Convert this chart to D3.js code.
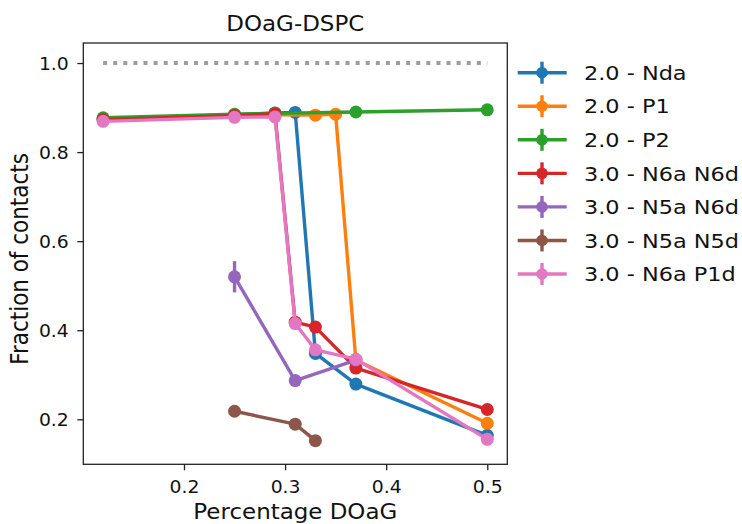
<!DOCTYPE html>
<html>
<head>
<meta charset="utf-8">
<script src="https://cdn.jsdelivr.net/npm/d3@7"></script>
<style>
  body { margin: 0; background: #fff; }
  svg { display: block; font-family: 'DejaVu Sans', sans-serif; }
</style>
</head>
<body>
<div id="visualization"></div>
<script>
// DATA
const seriesNames = ['2.0 - Nda', '2.0 - P1', '2.0 - P2', '3.0 - N6a N6d', '3.0 - N5a N6d', '3.0 - N5a N5d', '3.0 - N6a P1d']
const seriesColors = ['#1f77b4', '#ff7f0e', '#2ca02c', '#d62728', '#9467bd', '#8c564b', '#e377c2']

const ndaX = [0.12, 0.25, 0.29, 0.31, 0.33, 0.37, 0.5]
const ndaY = [0.874, 0.884, 0.888, 0.889, 0.348, 0.279, 0.164]
const ndaErr = [0.003, 0.003, 0.003, 0.003, 0.006, 0.005, 0.004]

const p1X = [0.12, 0.25, 0.29, 0.33, 0.35, 0.37, 0.5]
const p1Y = [0.874, 0.883, 0.884, 0.883, 0.885, 0.333, 0.191]
const p1Err = [0.003, 0.003, 0.003, 0.003, 0.003, 0.006, 0.004]

const p2X = [0.12, 0.25, 0.29, 0.37, 0.5]
const p2Y = [0.877, 0.885, 0.887, 0.890, 0.895]
const p2Err = [0.003, 0.003, 0.003, 0.003, 0.003]

const n6aN6dX = [0.12, 0.25, 0.29, 0.31, 0.33, 0.37, 0.5]
const n6aN6dY = [0.873, 0.882, 0.886, 0.418, 0.407, 0.315, 0.222]
const n6aN6dErr = [0.003, 0.003, 0.003, 0.008, 0.006, 0.005, 0.004]

const n5aN6dX = [0.25, 0.31, 0.37]
const n5aN6dY = [0.520, 0.287, 0.333]
const n5aN6dErr = [0.035, 0.006, 0.006]

const n5aN5dX = [0.25, 0.31, 0.33]
const n5aN5dY = [0.218, 0.189, 0.152]
const n5aN5dErr = [0.004, 0.004, 0.004]

const n6aP1dX = [0.12, 0.25, 0.29, 0.31, 0.33, 0.37, 0.5]
const n6aP1dY = [0.869, 0.878, 0.879, 0.415, 0.356, 0.335, 0.155]
const n6aP1dErr = [0.003, 0.003, 0.003, 0.008, 0.006, 0.005, 0.004]

const refX = [0.12, 0.5]
const refY = [1.0, 1.0]

const xTicks = [0.2, 0.3, 0.4, 0.5]
const yTicks = [0.2, 0.4, 0.6, 0.8, 1.0]

const xList = [ndaX, p1X, p2X, n6aN6dX, n5aN6dX, n5aN5dX, n6aP1dX]
const yList = [ndaY, p1Y, p2Y, n6aN6dY, n5aN6dY, n5aN5dY, n6aP1dY]
const errList = [ndaErr, p1Err, p2Err, n6aN6dErr, n5aN6dErr, n5aN5dErr, n6aP1dErr]

const dataset = seriesNames.map((name, i) => ({
  name: name,
  color: seriesColors[i],
  points: xList[i].map((x, j) => ({ x: x, y: yList[i][j], err: errList[i][j] }))
}))

//BOX
const w = 742
const h = 524
const plot = { left: 83.3, right: 507.3, top: 43, bottom: 464.3 }
const sx = 1.12 // the picture is a bit wider than tall, text too

//DEFINE SCALES
const xScale = d3.scaleLinear()
  .domain([0.1004, 0.5198])
  .range([plot.left, plot.right])

const yScale = d3.scaleLinear()
  .domain([0.0989, 1.045])
  .range([plot.bottom, plot.top])

const svg = d3.select('#visualization')
  .append('svg')
  .attr('width', w)
  .attr('height', h)

//DOTTED REFERENCE LINE
svg.append('line')
  .attr('x1', xScale(refX[0]))
  .attr('x2', xScale(refX[1]))
  .attr('y1', yScale(refY[0]))
  .attr('y2', yScale(refY[1]))
  .attr('stroke', '#9d9d9d')
  .attr('stroke-width', 4)
  .attr('stroke-dasharray', '4,6.1')

//SERIES
const line = d3.line()
  .x(d => xScale(d.x))
  .y(d => yScale(d.y))

dataset.forEach(s => {
  const g = svg.append('g')
  g.selectAll('.err')
    .data(s.points)
    .enter()
    .append('line')
    .attr('x1', d => xScale(d.x))
    .attr('x2', d => xScale(d.x))
    .attr('y1', d => yScale(d.y - d.err))
    .attr('y2', d => yScale(d.y + d.err))
    .attr('stroke', s.color)
    .attr('stroke-width', 3.4)
  g.append('path')
    .datum(s.points)
    .attr('d', line)
    .attr('fill', 'none')
    .attr('stroke', s.color)
    .attr('stroke-width', 3.4)
    .attr('stroke-linejoin', 'round')
  g.selectAll('circle')
    .data(s.points)
    .enter()
    .append('circle')
    .attr('cx', d => xScale(d.x))
    .attr('cy', d => yScale(d.y))
    .attr('r', 6.5)
    .attr('fill', s.color)
})

//FRAME
svg.append('rect')
  .attr('x', plot.left)
  .attr('y', plot.top)
  .attr('width', plot.right - plot.left)
  .attr('height', plot.bottom - plot.top)
  .attr('fill', 'none')
  .attr('stroke', '#222')
  .attr('stroke-width', 1.3)

//GENERATE AXES
const xaxis = d3.axisBottom(xScale)
  .tickValues(xTicks)
  .tickFormat(d3.format('.1f'))
  .tickSize(6)

const yaxis = d3.axisLeft(yScale)
  .tickValues(yTicks)
  .tickFormat(d3.format('.1f'))
  .tickSize(6)

const gx = svg.append('g')
  .attr('transform', 'translate(0,' + plot.bottom + ')')
  .call(xaxis)
gx.select('.domain').remove()
gx.selectAll('.tick line').attr('stroke', '#222').attr('stroke-width', 1.3)
gx.selectAll('.tick text')
  .attr('y', null)
  .attr('dy', null)
  .attr('transform', `translate(0,28.6) scale(${sx},1)`)
  .attr('font-size', 16.8)
  .attr('font-family', 'DejaVu Sans')
  .attr('fill', '#111')

const gy = svg.append('g')
  .attr('transform', 'translate(' + plot.left + ',0)')
  .call(yaxis)
gy.select('.domain').remove()
gy.selectAll('.tick line').attr('stroke', '#222').attr('stroke-width', 1.3)
gy.selectAll('.tick text')
  .attr('x', null)
  .attr('dy', null)
  .attr('transform', `translate(-14.5,6.3) scale(${sx},1)`)
  .attr('font-size', 16.8)
  .attr('font-family', 'DejaVu Sans')
  .attr('fill', '#111')

//TITLE AND AXIS LABELS
svg.append('text')
  .text('DOaG-DSPC')
  .attr('text-anchor', 'middle')
  .attr('font-size', 20.5)
  .attr('fill', '#111')
  .attr('transform', `translate(${(plot.left + plot.right) / 2},31) scale(${sx},1)`)

svg.append('text')
  .text('Percentage DOaG')
  .attr('text-anchor', 'middle')
  .attr('font-size', 20.5)
  .attr('fill', '#111')
  .attr('transform', `translate(${(plot.left + plot.right) / 2},518.5) scale(${sx},1)`)

svg.append('text')
  .text('Fraction of contacts')
  .attr('text-anchor', 'middle')
  .attr('font-size', 21.5)
  .attr('fill', '#111')
  .attr('transform', `translate(28,259) scale(${sx},1) rotate(-90)`)

//LEGEND
const legendTop = 72.7
const legendStep = 33.55
const legend = svg.selectAll('.legend')
  .data(dataset)
  .enter()
  .append('g')
  .attr('class', 'legend')
  .attr('transform', (d, i) => `translate(0,${legendTop + i * legendStep})`)

legend.append('line')
  .attr('x1', 517.7).attr('x2', 566.7)
  .attr('stroke', d => d.color)
  .attr('stroke-width', 3.4)
legend.append('line')
  .attr('x1', 542).attr('x2', 542)
  .attr('y1', -11).attr('y2', 11)
  .attr('stroke', d => d.color)
  .attr('stroke-width', 3.4)
legend.append('circle')
  .attr('cx', 542)
  .attr('r', 5.8)
  .attr('fill', d => d.color)
legend.append('text')
  .text(d => d.name)
  .attr('font-size', 20)
  .attr('fill', '#111')
  .attr('transform', `translate(584,7.2) scale(${sx},1)`)
</script>
</body>
</html>
